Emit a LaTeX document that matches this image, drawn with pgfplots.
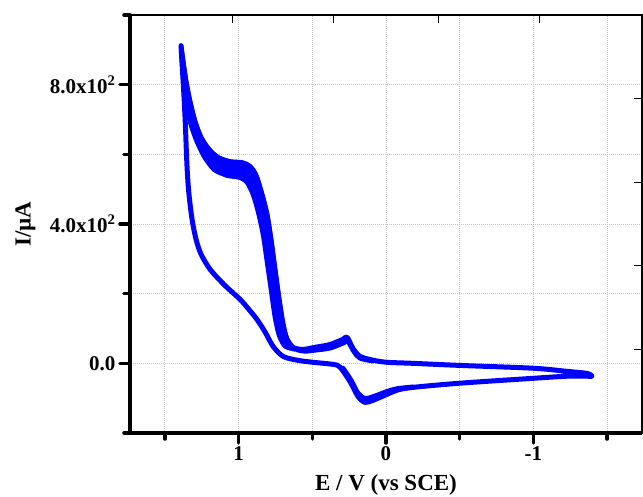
\documentclass[border=0pt]{standalone}
\usepackage{fontspec}
\setmainfont{Liberation Serif}
\usepackage{pgfplots}
\pgfplotsset{compat=1.18}
\definecolor{cvblue}{RGB}{0,0,255}
\definecolor{gridgray}{RGB}{200,200,200}

\begin{document}
\begin{tikzpicture}
\useasboundingbox (-130pt,-63pt) rectangle (513pt,433pt);
\begin{axis}[
  at={(0pt,0pt)}, anchor=south west,
  scale only axis, width=512pt, height=418pt,
  x dir=reverse,
  xmin=-1.736, xmax=1.736,
  ymin=-200, ymax=1000,
  xtick={-1,0,1}, xticklabels={-1,0,1},
  minor xtick={-1.5,-0.5,0.5,1.5},
  ytick={0,400,800},
  yticklabels={0.0,4.0x10\textsuperscript{2},8.0x10\textsuperscript{2}},
  minor ytick={-200,200,600,1000},
  tick pos=left, tick align=outside,
  major tick length=10pt, minor tick length=6pt,
  every tick/.style={black, line width=3.5pt, line cap=round},
  axis line style={line width=1.2pt},
  grid=both,
  grid style={gridgray, dash pattern=on 1pt off 1pt, line width=0.8pt},
  minor grid style={gridgray, dash pattern=on 1pt off 1pt, line width=0.8pt},
  ticklabel style={font=\bfseries\fontsize{21}{21}\selectfont},
  yticklabel style={xshift=-1pt},
  xlabel={E / V (vs SCE)},
  ylabel={I/µA},
  label style={font=\bfseries\fontsize{23}{23}\selectfont},
  xlabel style={at={(axis description cs:0.5,0)}, anchor=base, yshift=-57pt},
  ylabel style={at={(axis description cs:-0.204,0.5)}, anchor=center},
  after end axis/.code={
    \draw[line width=4.5pt] (rel axis cs:0,1) -- (rel axis cs:0,0) -- (rel axis cs:1,0);
  }
]
% band of repeated anodic cycles
\addplot[cvblue, fill=cvblue, line width=4.5pt, line join=round, smooth, tension=0.4] coordinates {
  (1.390,912) (1.376,866) (1.356,809) (1.329,751) (1.295,694) (1.254,648)
  (1.200,614) (1.139,591) (1.058,579) (0.976,576) (0.922,565) (0.881,539)
  (0.841,485) (0.807,427) (0.780,356) (0.753,270) (0.725,184) (0.698,112)
  (0.671,69) (0.631,46)
  (0.617,40) (0.685,49) (0.725,80) (0.753,132) (0.780,212) (0.807,292)
  (0.834,370) (0.868,436) (0.902,485) (0.942,519) (0.990,533) (1.078,539)
  (1.166,556) (1.234,594) (1.288,642) (1.329,694) (1.356,757) (1.376,829)
  (1.390,900)
};
% full cycle
\addplot[cvblue, line width=5pt, line join=round, line cap=round, smooth, tension=0.5] coordinates {
  (1.390,912) (1.376,866) (1.356,809) (1.329,751) (1.295,694) (1.254,648)
  (1.200,614) (1.139,591) (1.058,579) (0.976,576) (0.922,565) (0.881,539)
  (0.841,485) (0.807,427) (0.780,356) (0.753,270) (0.725,184) (0.698,112)
  (0.671,69) (0.631,46) (0.563,40) (0.481,46) (0.380,54) (0.292,69)
  (0.264,75) (0.224,43) (0.176,20) (0.088,9) (-0.007,3) (-0.183,0)
  (-0.502,-6) (-0.997,-14) (-1.227,-23) (-1.363,-29) (-1.397,-37)
  (-1.363,-37) (-1.227,-37) (-0.997,-43) (-0.502,-57) (-0.183,-69)
  (-0.075,-77) (-0.007,-89) (0.088,-106) (0.142,-112) (0.190,-95)
  (0.244,-52) (0.312,-11) (0.359,-3) (0.495,3) (0.603,9) (0.698,20)
  (0.766,49) (0.820,90) (0.875,126) (0.936,158) (0.990,184) (1.058,210)
  (1.112,232) (1.193,270) (1.254,313) (1.288,356) (1.315,413) (1.336,485)
  (1.346,540) (1.353,600) (1.360,680) (1.369,760) (1.380,840) (1.390,912)
};
% later cycles around the small peaks
\addplot[cvblue, line width=5pt, line join=round, line cap=round, smooth, tension=0.5] coordinates {
  (0.603,39) (0.549,35) (0.481,38) (0.380,44) (0.292,58) (0.258,63) (0.217,34) (0.176,15) (0.088,7)
};
\addplot[cvblue, line width=5pt, line join=round, line cap=round, smooth, tension=0.5] coordinates {
  (-0.183,-68) (-0.075,-73) (-0.007,-81) (0.088,-96) (0.142,-101) (0.190,-86) (0.237,-49) (0.292,-14)
};
\end{axis}
% short inner ticks on the top and right edges
\begin{axis}[
  at={(0pt,0pt)}, anchor=south west,
  scale only axis, width=512pt, height=418pt,
  x dir=reverse,
  xmin=-1.736, xmax=1.736,
  ymin=-200, ymax=1000,
  axis line style={draw=none},
  xtick pos=right, ytick pos=right, tick align=inside,
  xtick={-1.044,-0.353,0.353,1.044}, ytick={40,281,519,760},
  xticklabels={}, yticklabels={},
  major tick length=8pt,
  every tick/.style={black, line width=1pt},
]
\end{axis}
\end{tikzpicture}
\end{document}
